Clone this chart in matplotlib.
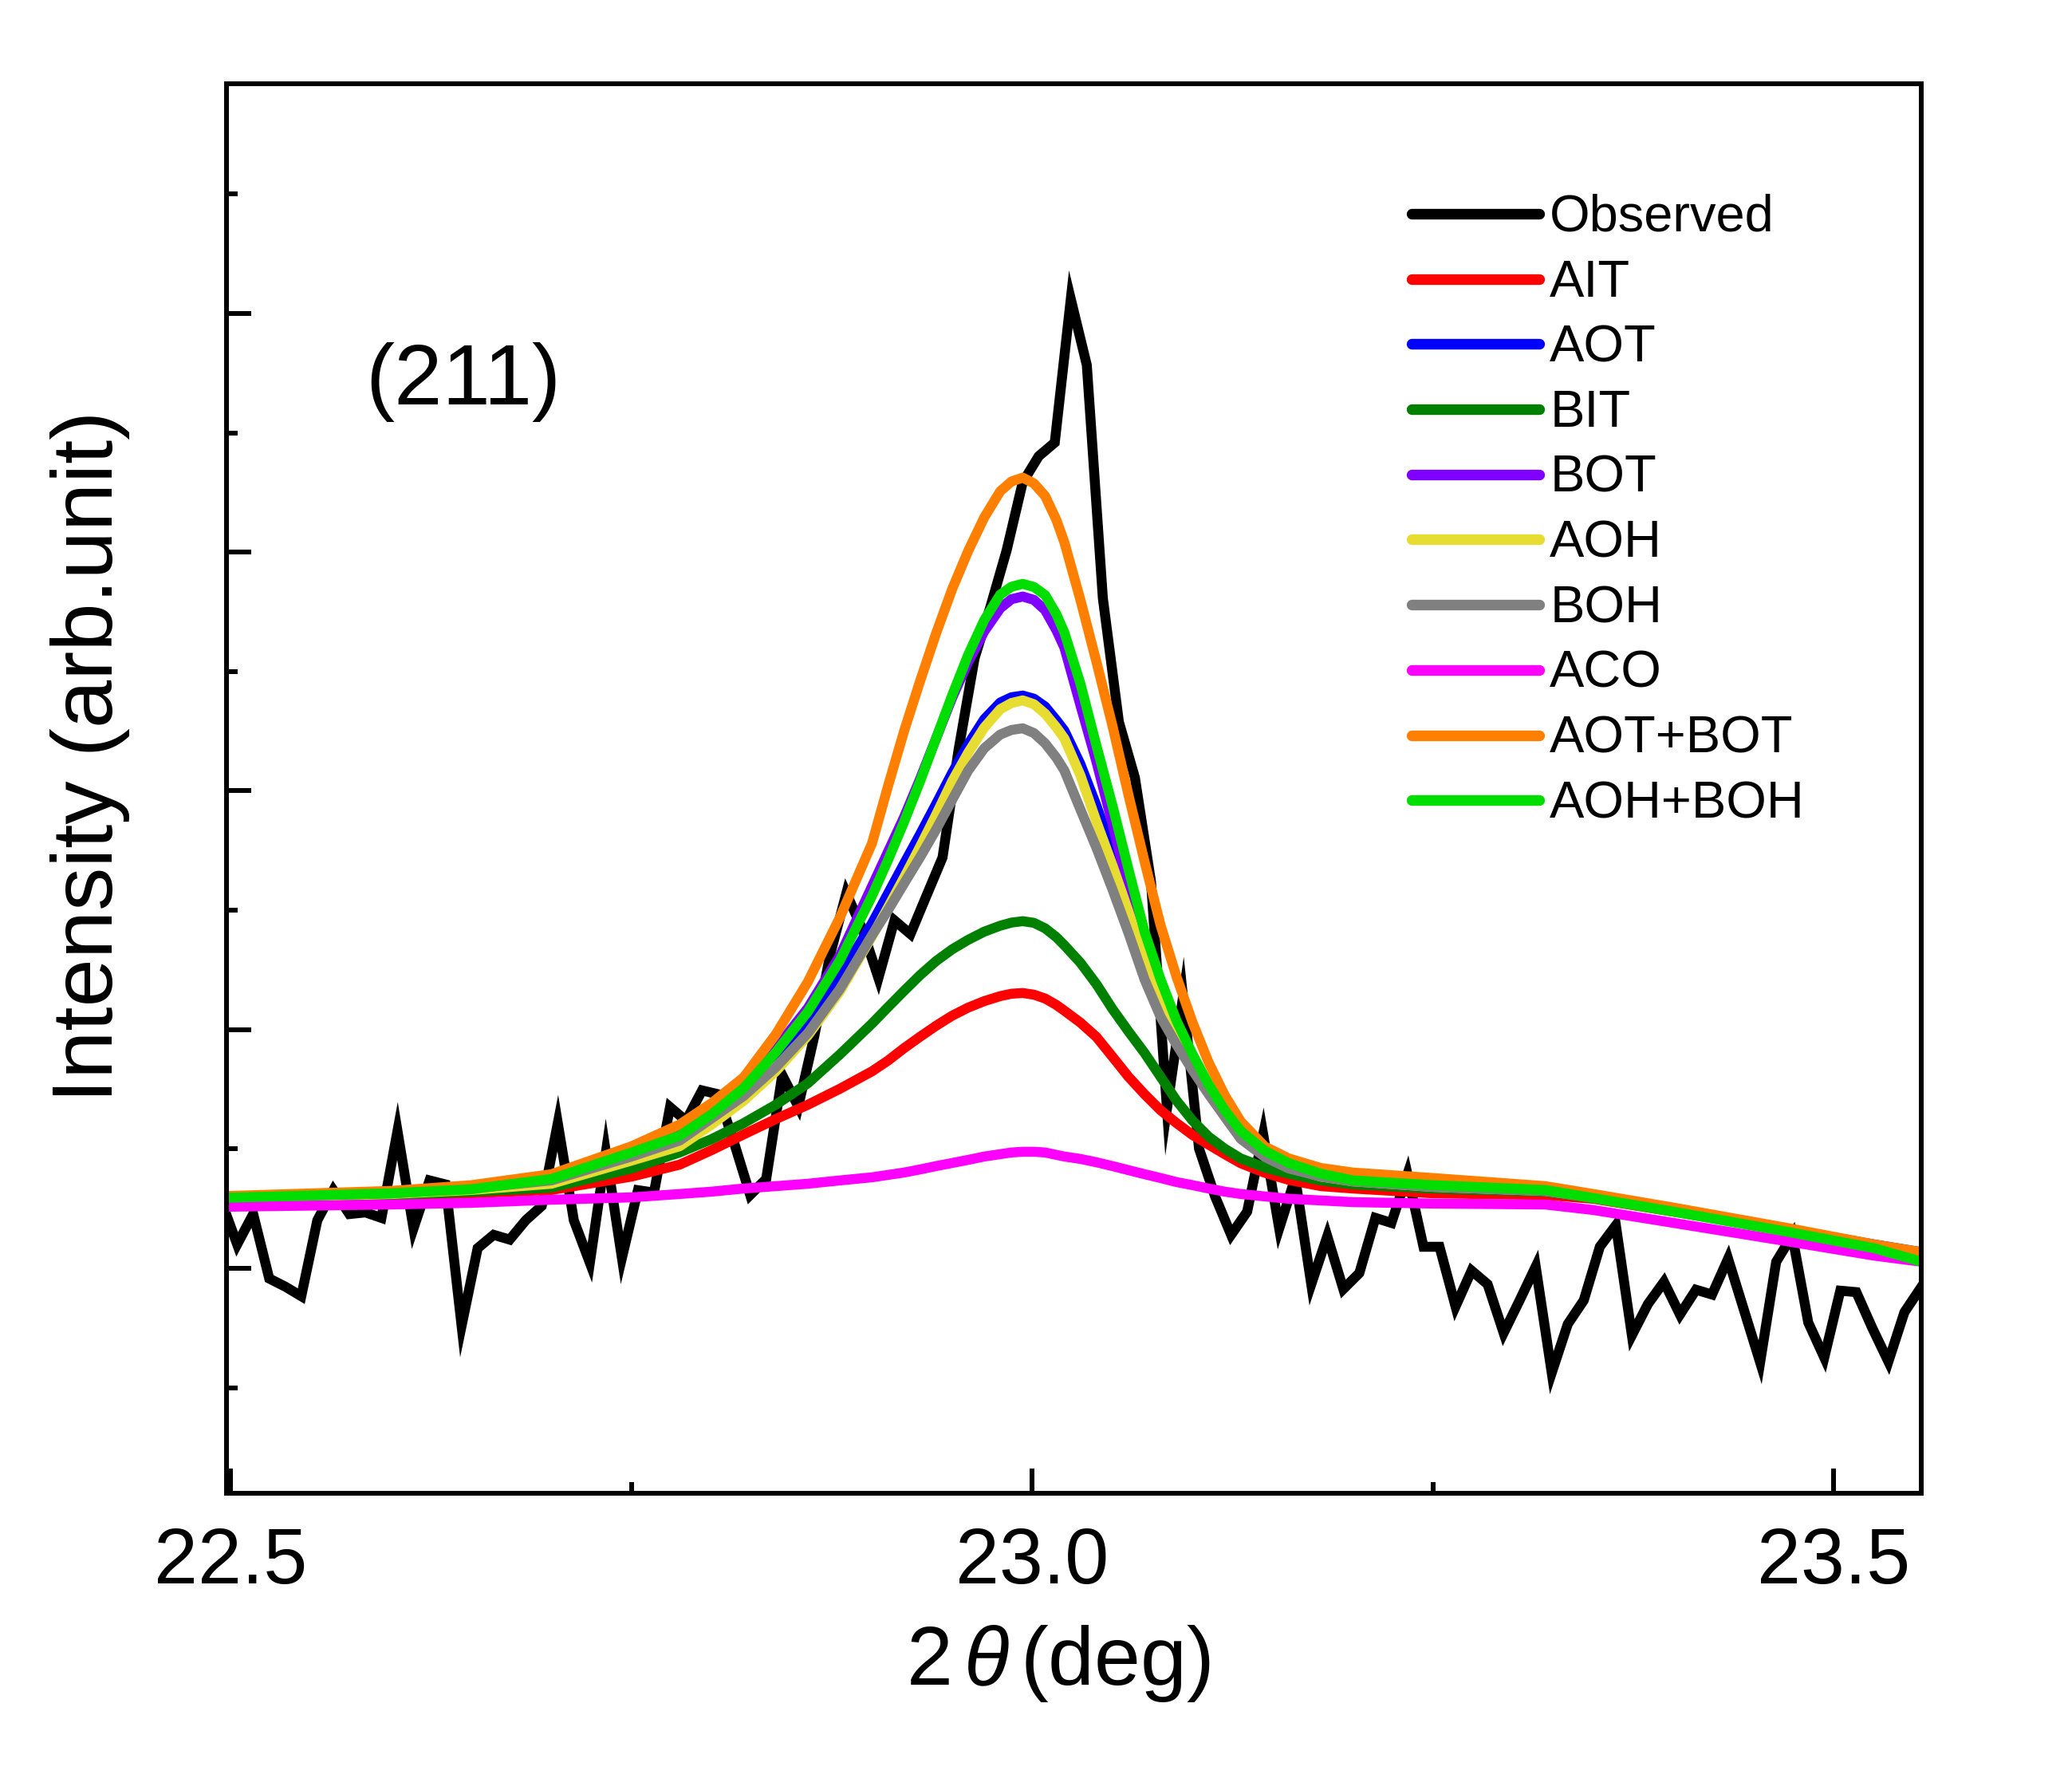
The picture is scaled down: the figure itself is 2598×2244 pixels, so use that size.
import numpy as np
import matplotlib
matplotlib.use("Agg")
import matplotlib.pyplot as plt
from matplotlib.ticker import MultipleLocator

plt.rcParams['font.family'] = ['Liberation Sans', 'DejaVu Sans']
plt.rcParams['mathtext.fontset'] = 'custom'
plt.rcParams['mathtext.rm'] = 'Liberation Sans'
plt.rcParams['mathtext.it'] = 'Liberation Sans:italic'

# observed scan (0.01 deg step)
two_theta_obs = np.round(np.arange(22.494, 23.5545, 0.01), 3)
observed = [1.284, 1.100, 1.227, 0.957, 0.923, 0.883, 1.201, 1.327, 1.227, 1.234,
            1.211, 1.575, 1.167, 1.368, 1.351, 0.759, 1.084, 1.140, 1.120, 1.201,
            1.261, 1.608, 1.201, 1.023, 1.485, 1.043, 1.327, 1.317, 1.675, 1.618,
            1.745, 1.729, 1.525, 1.307, 1.374, 1.809, 1.678, 1.972, 2.317, 2.571,
            2.420, 2.216, 2.457, 2.400, 2.561, 2.721, 3.172, 3.556, 3.774, 4.008,
            4.292, 4.402, 4.459, 5.060, 4.783, 3.807, 3.289, 3.055, 2.621, 1.668,
            2.136, 1.501, 1.301, 1.140, 1.237, 1.561, 1.167, 1.378, 0.933, 1.134,
            0.913, 0.980, 1.211, 1.190, 1.394, 1.090, 1.090, 0.840, 0.990, 0.933,
            0.729, 0.866, 1.007, 0.562, 0.766, 0.866, 1.090, 1.180, 0.719, 0.850,
            0.943, 0.806, 0.910, 0.890, 1.040, 0.823, 0.606, 1.027, 1.137, 0.773,
            0.626, 0.906, 0.900, 0.749, 0.609, 0.816, 0.916]

# fitted profiles
two_theta_fit = [22.49, 22.60, 22.65, 22.70, 22.75, 22.78, 22.80, 22.82, 22.84, 22.86,
                 22.88, 22.90, 22.91, 22.92, 22.93, 22.94, 22.95, 22.96, 22.97, 22.98,
                 22.987, 22.994, 23.001, 23.008, 23.015, 23.02, 23.03, 23.04, 23.05, 23.06,
                 23.07, 23.08, 23.09, 23.10, 23.11, 23.12, 23.13, 23.145, 23.16, 23.18,
                 23.20, 23.25, 23.32, 23.35, 23.40, 23.47, 23.525, 23.555]
ait = [1.291, 1.304, 1.314, 1.328, 1.384, 1.434, 1.495, 1.561, 1.625, 1.685,
       1.752, 1.825, 1.870, 1.922, 1.970, 2.016, 2.058, 2.092, 2.119, 2.140,
       2.150, 2.153, 2.146, 2.130, 2.103, 2.079, 2.029, 1.969, 1.886, 1.802,
       1.729, 1.662, 1.608, 1.558, 1.518, 1.478, 1.440, 1.400, 1.370, 1.344,
       1.334, 1.314, 1.307, 1.291, 1.237, 1.160, 1.097, 1.057]
aot = [1.294, 1.317, 1.338, 1.384, 1.501, 1.585, 1.678, 1.775, 1.900, 2.040,
       2.223, 2.445, 2.570, 2.695, 2.818, 2.945, 3.075, 3.195, 3.300, 3.370,
       3.392, 3.399, 3.386, 3.353, 3.296, 3.252, 3.112, 2.938, 2.744, 2.544,
       2.350, 2.156, 2.003, 1.869, 1.762, 1.655, 1.560, 1.480, 1.425, 1.388,
       1.364, 1.341, 1.324, 1.297, 1.244, 1.164, 1.100, 1.067]
bit = [1.291, 1.307, 1.321, 1.338, 1.418, 1.485, 1.541, 1.608, 1.685, 1.775,
       1.896, 2.025, 2.094, 2.162, 2.228, 2.287, 2.336, 2.376, 2.410, 2.435,
       2.448, 2.454, 2.447, 2.424, 2.387, 2.353, 2.280, 2.190, 2.086, 1.992,
       1.902, 1.802, 1.702, 1.618, 1.551, 1.501, 1.460, 1.422, 1.396, 1.368,
       1.351, 1.334, 1.321, 1.294, 1.241, 1.160, 1.097, 1.057]
bot = [1.294, 1.317, 1.334, 1.381, 1.491, 1.561, 1.655, 1.770, 1.920, 2.090,
       2.310, 2.600, 2.745, 2.890, 3.050, 3.220, 3.390, 3.540, 3.668, 3.765,
       3.803, 3.814, 3.800, 3.757, 3.673, 3.600, 3.359, 3.122, 2.861, 2.587,
       2.353, 2.160, 2.003, 1.869, 1.752, 1.655, 1.560, 1.480, 1.425, 1.388,
       1.364, 1.341, 1.324, 1.297, 1.244, 1.164, 1.097, 1.060]
aoh = [1.291, 1.311, 1.328, 1.354, 1.451, 1.511, 1.602, 1.702, 1.825, 1.975,
       2.160, 2.390, 2.512, 2.637, 2.766, 2.900, 3.040, 3.160, 3.265, 3.342,
       3.368, 3.379, 3.363, 3.323, 3.266, 3.219, 3.065, 2.871, 2.688, 2.494,
       2.293, 2.116, 1.969, 1.849, 1.742, 1.642, 1.548, 1.472, 1.422, 1.384,
       1.364, 1.341, 1.324, 1.297, 1.244, 1.164, 1.097, 1.060]
boh = [1.294, 1.314, 1.334, 1.368, 1.468, 1.535, 1.628, 1.722, 1.842, 1.985,
       2.170, 2.395, 2.500, 2.612, 2.722, 2.838, 2.962, 3.085, 3.178, 3.236,
       3.255, 3.262, 3.242, 3.199, 3.139, 3.085, 2.922, 2.761, 2.587, 2.404,
       2.210, 2.053, 1.936, 1.829, 1.729, 1.635, 1.542, 1.466, 1.418, 1.384,
       1.364, 1.341, 1.324, 1.294, 1.241, 1.160, 1.097, 1.057]
aco = [1.257, 1.267, 1.274, 1.287, 1.297, 1.311, 1.321, 1.334, 1.344, 1.354,
       1.368, 1.381, 1.391, 1.401, 1.414, 1.428, 1.441, 1.454, 1.468, 1.478,
       1.485, 1.488, 1.488, 1.485, 1.475, 1.468, 1.458, 1.444, 1.428, 1.411,
       1.394, 1.378, 1.361, 1.348, 1.334, 1.321, 1.311, 1.301, 1.291, 1.284,
       1.277, 1.271, 1.267, 1.244, 1.190, 1.114, 1.053, 1.027]
aot_bot = [1.301, 1.324, 1.348, 1.394, 1.511, 1.602, 1.692, 1.800, 1.980, 2.200,
           2.470, 2.780, 3.020, 3.250, 3.460, 3.660, 3.845, 4.005, 4.145, 4.255,
           4.296, 4.312, 4.288, 4.235, 4.135, 4.041, 3.800, 3.540, 3.272, 2.982,
           2.704, 2.437, 2.220, 2.029, 1.862, 1.725, 1.615, 1.510, 1.460, 1.420,
           1.401, 1.378, 1.344, 1.311, 1.254, 1.170, 1.100, 1.067]
aoh_boh = [1.294, 1.314, 1.331, 1.374, 1.485, 1.555, 1.645, 1.755, 1.905, 2.075,
           2.290, 2.560, 2.710, 2.870, 3.040, 3.220, 3.400, 3.570, 3.715, 3.822,
           3.855, 3.867, 3.854, 3.820, 3.740, 3.663, 3.449, 3.189, 2.938, 2.671,
           2.410, 2.210, 2.036, 1.896, 1.769, 1.662, 1.575, 1.492, 1.440, 1.396,
           1.368, 1.348, 1.328, 1.294, 1.237, 1.154, 1.084, 1.027]

labels = ["Observed", "AIT", "AOT", "BIT", "BOT", "AOH", "BOH", "ACO", "AOT+BOT", "AOH+BOH"]
colors = ["#000000", "#FF0000", "#0000FF", "#008000", "#8000FF", "#E6DC32",
          "#808080", "#FF00FF", "#FF8000", "#00DD00"]
fits = [ait, aot, bit, bot, aoh, boh, aco, aot_bot, aoh_boh]

fig = plt.figure(figsize=(8.66, 7.48), dpi=300)
ax = fig.add_axes([0.1092, 0.1658, 0.8182, 0.7874])

ax.plot(two_theta_obs, observed, color=colors[0], lw=3.0, solid_joinstyle="miter")
for ys, c in zip(fits, colors[1:]):
    ax.plot(two_theta_fit, ys, color=c, lw=3.0)

ax.set_xlim(22.4972, 23.5547)
ax.set_ylim(0.0576, 5.962)

ax.xaxis.set_major_locator(MultipleLocator(0.5))
ax.xaxis.set_minor_locator(MultipleLocator(0.25))
ax.yaxis.set_major_locator(MultipleLocator(1.0))
ax.yaxis.set_minor_locator(MultipleLocator(0.5))
ax.set_xticks([22.5, 23.0, 23.5])
ax.set_xticklabels(["22.5", "23.0", "23.5"])
ax.tick_params(which="both", direction="in", width=1.44, top=False, right=False)
ax.tick_params(which="major", length=7.4)
ax.tick_params(which="minor", length=3.3)
ax.tick_params(axis="x", labelsize=23.7, pad=10)
ax.tick_params(axis="y", labelleft=False)
for sp in ax.spines.values():
    sp.set_linewidth(1.44)

ax.set_xlabel(r"2$\,\mathit{\theta}\,$(deg)", fontsize=25)
ax.xaxis.set_label_coords(0.491, -0.092)
ax.xaxis.label.set_va("top")
ax.set_ylabel("Intensity (arb.unit)", fontsize=26)
ax.yaxis.set_label_coords(-0.0568, 0.523)

ax.text(0.082, 0.7725, "(211)", transform=ax.transAxes, fontsize=26,
        ha="left", va="baseline")

# legend drawn by hand to match the layout
for i, (lab, c) in enumerate(zip(labels, colors)):
    yy = 0.9078 - i * 0.04624
    ax.plot([0.6993, 0.7746], [yy, yy], transform=ax.transAxes, color=c,
            lw=3.2, solid_capstyle="round")
    ax.text(0.7807, yy - 0.01245, lab, transform=ax.transAxes, fontsize=15.6,
            ha="left", va="baseline")

fig.savefig("out.png", dpi=300)
